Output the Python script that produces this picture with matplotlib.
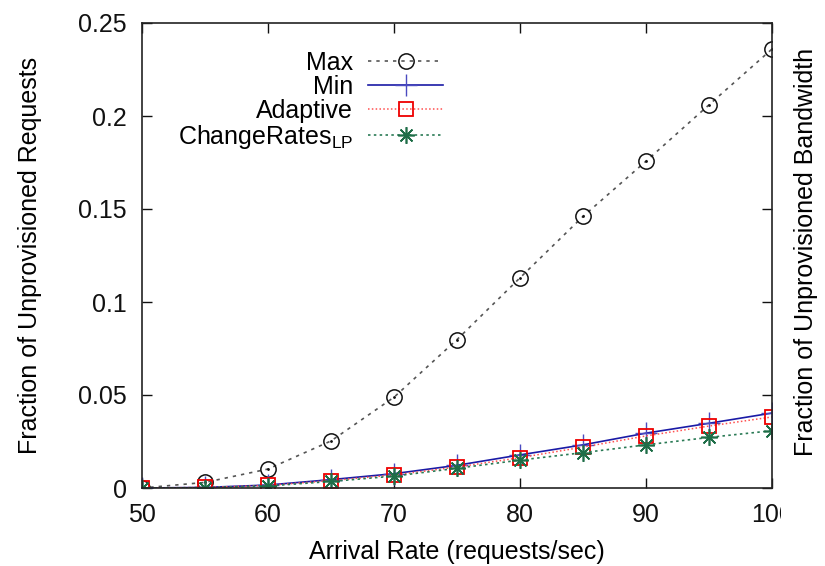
import matplotlib
matplotlib.use('Agg')
import matplotlib.pyplot as plt
from matplotlib.transforms import Bbox

plt.rcParams['font.family'] = ['Liberation Sans', 'DejaVu Sans']
plt.rcParams['mathtext.fontset'] = 'custom'
plt.rcParams['mathtext.rm'] = 'Liberation Sans'

arrival_rate = [50, 55, 60, 65, 70, 75, 80, 85, 90, 95, 100]

max_vals = [0.0, 0.003, 0.0102, 0.0253, 0.0488, 0.0798, 0.113, 0.146, 0.1757, 0.206, 0.236]
min_vals = [0.0, 0.0003, 0.0016, 0.0045, 0.0077, 0.0122, 0.0178, 0.0232, 0.0295, 0.0348, 0.0403]
adaptive_vals = [0.0, 0.0003, 0.0014, 0.0040, 0.0070, 0.0113, 0.0163, 0.0220, 0.0280, 0.0333, 0.0382]
changerates_vals = [0.0, 0.0002, 0.0011, 0.0035, 0.0064, 0.0106, 0.0150, 0.0190, 0.0232, 0.0272, 0.0308]

series_labels = ['Max', 'Min', 'Adaptive', 'ChangeRates$_\\mathrm{LP}$']
x_ticks = [50, 60, 70, 80, 90, 100]
y_ticks = [0, 0.05, 0.1, 0.15, 0.2, 0.25]
y_tick_labels = ['0', '0.05', '0.1', '0.15', '0.2', '0.25']

fig = plt.figure(figsize=(8.25, 5.66), dpi=100)
ax = fig.add_axes([142 / 825, 1 - 488 / 566, 630 / 825, 465 / 566])

ax.plot(arrival_rate, max_vals, color='#555555', linestyle=(0, (2, 3)), linewidth=1.2,
        marker='o', markersize=11, markerfacecolor='none', markeredgecolor='#111111',
        markeredgewidth=1.1, label=series_labels[0])
ax.plot(arrival_rate, max_vals, linestyle='none', marker='.', markersize=2, color='#111111')
ax.plot(arrival_rate, min_vals, color='#1a1aa6', linestyle='-', linewidth=1.2,
        marker='+', markersize=16, markeredgecolor='#4a4ac0', markeredgewidth=1.0,
        label=series_labels[1])
ax.plot(arrival_rate, adaptive_vals, color='#ff5050', linestyle=(0, (1, 1.5)), linewidth=1.1,
        marker='s', markersize=10, markerfacecolor='none', markeredgecolor='#ee0000',
        markeredgewidth=1.3, label=series_labels[2])
ax.plot(arrival_rate, changerates_vals, color='#2a7a55', linestyle=(0, (1.5, 2)), linewidth=1.2,
        marker=(8, 2, 0), markersize=12, markeredgecolor='#1f6e48', markeredgewidth=1.2,
        label=series_labels[3])

ax.set_xlim(50, 100)
ax.set_ylim(0, 0.25)
ax.set_xticks(x_ticks)
ax.set_yticks(y_ticks)
ax.set_yticklabels(y_tick_labels)
ax.tick_params(direction='in', length=7, width=1.0, labelsize=18, top=True, right=True,
               pad=11, colors='#111111')
for s in ax.spines.values():
    s.set_linewidth(1.2)
    s.set_color('#222222')

ax.set_xlabel('Arrival Rate (requests/sec)', fontsize=18, labelpad=9)
ax.set_ylabel('Fraction of Unprovisioned Requests', fontsize=18, labelpad=26)
fig.text(806 / 825, 1 - 252 / 566, 'Fraction of Unprovisioned Bandwidth', rotation=90,
         fontsize=18, ha='center', va='center')

handles, labels = ax.get_legend_handles_labels()
ax.legend(handles, labels, loc='upper right', bbox_to_anchor=(0.478, 0.94),
          frameon=False, markerfirst=False, fontsize=18, handlelength=3.0,
          handletextpad=0.6, labelspacing=0.0, borderpad=0, borderaxespad=0)

# the last x tick label is cut at the right edge of the source picture
fig.canvas.draw()
clip = Bbox.from_extents(0, 0, 781, 566)
for lbl in ax.get_xticklabels():
    lbl.set_clip_box(clip)
    lbl.set_clip_on(True)

fig.savefig('out.png', dpi=100)
